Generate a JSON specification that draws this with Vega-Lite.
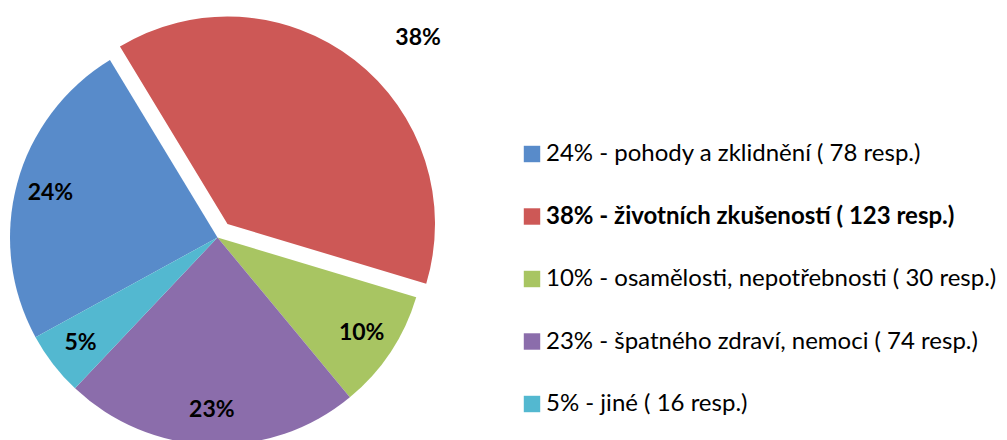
{
  "$schema": "https://vega.github.io/schema/vega-lite/v6.json",
  "width": 435,
  "height": 475,
  "padding": 0,
  "background": "white",
  "config": {"view": {"stroke": null}, "font": "Lato"},
  "data": {
    "values": [
      {"k": 1, "label": "24% - pohody a zklidnění ( 78 resp.)", "value": 78, "pct": "24%"},
      {"k": 2, "label": "38% - životních zkušeností ( 123 resp.)", "value": 123, "pct": "38%"},
      {"k": 3, "label": "10% - osamělosti, nepotřebnosti ( 30 resp.)", "value": 30, "pct": "10%"},
      {"k": 4, "label": "23% - špatného zdraví, nemoci ( 74 resp.)", "value": 74, "pct": "23%"},
      {"k": 5, "label": "5% - jiné ( 16 resp.)", "value": 16, "pct": "5%"}
    ]
  },
  "encoding": {
    "theta": {"field": "value", "type": "quantitative", "stack": true, "scale": {"domain": [0, 321], "range": [4.2115, 10.4947]}},
    "order": {"field": "k", "type": "quantitative"},
    "color": {
      "field": "label", "type": "nominal",
      "scale": {
        "domain": ["24% - pohody a zklidnění ( 78 resp.)", "38% - životních zkušeností ( 123 resp.)", "10% - osamělosti, nepotřebnosti ( 30 resp.)", "23% - špatného zdraví, nemoci ( 74 resp.)", "5% - jiné ( 16 resp.)"],
        "range": ["#588BCA", "#CD5856", "#A8C562", "#8B6DAB", "#53B8D0"]
      },
      "legend": {
        "title": null,
        "orient": "none",
        "legendX": 520,
        "legendY": 142,
        "symbolType": "square",
        "symbolSize": 270,
        "symbolStrokeWidth": 0,
        "symbolOpacity": 1,
        "labelFontSize": 24,
        "labelFont": "Lato",
        "labelColor": "#000000",
        "labelOffset": 2,
        "labelLimit": 600,
        "rowPadding": 38.5,
        "padding": 0,
        "encode": {
          "labels": {"update": {"fontWeight": {"signal": "datum.value === '38% - životních zkušeností ( 123 resp.)' ? 'bold' : 'normal'"}}}
        }
      }
    }
  },
  "layer": [
    {
      "mark": {"type": "arc", "outerRadius": 207.5},
      "encoding": {"opacity": {"condition": {"test": "datum.k == 2", "value": 0}, "value": 1}}
    },
    {
      "mark": {"type": "arc", "outerRadius": 207.5, "xOffset": 10, "yOffset": -13.5},
      "encoding": {"opacity": {"condition": {"test": "datum.k != 2", "value": 0}, "value": 1}}
    },
    {
      "mark": {"type": "text", "radius": 173, "fontSize": 23, "fontWeight": "bold", "font": "Lato", "color": "#000000", "align": "center", "baseline": "middle"},
      "encoding": {
        "text": {"condition": {"test": "datum.k == 2", "value": ""}, "field": "pct", "type": "nominal"},
        "color": {"value": "#000000"}
      }
    },
    {
      "mark": {"type": "text", "radius": 250, "xOffset": 47.5, "yOffset": -2, "fontSize": 23, "fontWeight": "bold", "font": "Lato", "color": "#000000", "align": "center", "baseline": "middle"},
      "encoding": {
        "text": {"condition": {"test": "datum.k != 2", "value": ""}, "field": "pct", "type": "nominal"},
        "color": {"value": "#000000"}
      }
    }
  ]
}
